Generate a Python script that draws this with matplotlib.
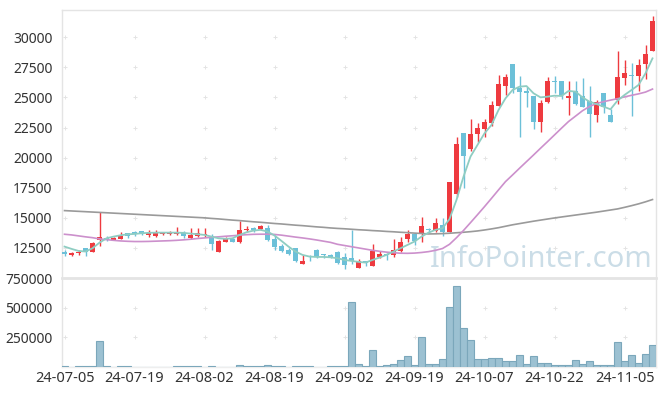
import numpy as np
import matplotlib.pyplot as plt
from matplotlib.ticker import FixedLocator, FuncFormatter

plt.rcParams['font.family'] = ['Noto Sans', 'DejaVu Sans']

# x-axis tick labels (one every 10 trading days)
tick_labels = ["24-07-05", "24-07-19", "24-08-02", "24-08-19", "24-09-02",
               "24-09-19", "24-10-07", "24-10-22", "24-11-05"]

# daily candles
opens = [12140, 11870, 12100, 12470, 12200, 13170, 13330, 13190, 13280, 13720,
         13830, 13910, 13610, 13480, 13640, 13620, 13620, 13780, 13300, 13530,
         13600, 13520, 12200, 13030, 13270, 12950, 13950, 14150, 14050, 14190,
         13250, 12670, 12330, 12530, 11150, 11860, 12330, 11960, 11920, 12140,
         11750, 11700, 10870, 11390, 11030, 11760, 11980, 11870, 12280, 13250,
         13660, 13720, 14100, 13940, 14410, 13860, 16990, 22030, 20700, 22000,
         22420, 22910, 24320, 25960, 27800, 25820, 25520, 25130, 22990, 24660,
         26360, 26330, 24990, 25540, 25130, 24730, 23550, 25400, 23550, 24790,
         26650, 26880, 26810, 27760, 28890]
highs = [12330, 12140, 12330, 12530, 12950, 15500, 13470, 13440, 13800, 13780,
         13890, 13940, 13950, 14030, 13830, 13890, 14240, 13920, 14130, 14130,
         14130, 13660, 13160, 13440, 13330, 14740, 14300, 14200, 14400, 14440,
         13580, 12860, 12470, 12530, 11920, 11920, 12390, 12000, 11980, 12270,
         12050, 14000, 11610, 11450, 12830, 12250, 12110, 13250, 13390, 14000,
         13660, 15050, 14160, 14970, 14970, 18000, 21750, 22030, 23190, 22860,
         23220, 24710, 26900, 26950, 27800, 26750, 25910, 25130, 24790, 26730,
         26750, 26400, 26330, 26330, 26580, 25930, 24830, 25400, 24020, 28860,
         28110, 27840, 28170, 29360, 31770]
lows = [11860, 11840, 11950, 11860, 12180, 12700, 13080, 13140, 13220, 13360,
        13470, 13580, 13390, 13420, 13580, 13560, 13560, 13360, 13220, 13420,
        13420, 12330, 12140, 12990, 12990, 12890, 13860, 13860, 14000, 13110,
        12360, 12140, 11920, 11350, 11140, 11420, 11640, 11640, 11640, 11170,
        10730, 11150, 10860, 11010, 10980, 11700, 11500, 11780, 12200, 12970,
        12750, 12970, 13860, 13860, 13500, 13800, 16760, 17460, 20530, 21330,
        21750, 22630, 24290, 25180, 25400, 21720, 24250, 22360, 22140, 24510,
        25370, 24850, 23550, 24400, 24180, 21700, 23000, 23740, 22970, 24460,
        26040, 23460, 25540, 26510, 28890]
closes = [11980, 12080, 12160, 12200, 12910, 13410, 13170, 13360, 13500, 13470,
          13670, 13700, 13750, 13750, 13750, 13800, 13830, 13530, 13610, 13700,
          13680, 12860, 13080, 13270, 13030, 13970, 14050, 14020, 14330, 13190,
          12580, 12250, 12030, 11400, 11450, 11760, 11760, 11880, 11720, 11230,
          11090, 11400, 11420, 11230, 12250, 12000, 11870, 12330, 12970, 13660,
          13080, 14330, 13950, 14550, 13860, 17980, 21150, 20170, 21940, 22470,
          22970, 24380, 26120, 26700, 25820, 25490, 25410, 22990, 24540, 26370,
          26300, 25210, 25130, 24460, 24240, 23630, 24600, 24240, 22970, 26730,
          27060, 26820, 27700, 28610, 31350]
volumes = [8500, 1000, 8500, 8500, 8500, 219000, 8500, 1000, 8500, 8500,
           1000, 1000, 1000, 1000, 1000, 1000, 8500, 8500, 8500, 8500,
           1000, 8500, 1000, 1000, 1000, 20000, 8500, 8500, 8500, 20000,
           8500, 8500, 1000, 8500, 8500, 8500, 1000, 1000, 12000, 12000,
           12000, 549000, 28700, 6000, 139700, 6000, 14500, 28700, 62900, 91300,
           14500, 253000, 28700, 28700, 71400, 506500, 685700, 327300, 225000, 71400,
           71400, 79900, 79900, 54300, 54300, 97000, 28700, 91300, 37300, 37300,
           20200, 20200, 20200, 62900, 28700, 54300, 20200, 20200, 20200, 207900,
           54300, 97000, 37300, 105500, 182300]

# moving averages (5, 20, 120 days) as drawn on the chart
ma5 = [12610, 12420, 12250, 12200, 12470, 12940, 13300, 13440, 13550, 13630,
       13660, 13720, 13750, 13770, 13770, 13770, 13770, 13750, 13690, 13640,
       13580, 13440, 13300, 13250, 13300, 13580, 13800, 13940, 14000, 13860,
       13530, 13080, 12610, 12200, 11920, 11780, 11750, 11750, 11720, 11640,
       11500, 11420, 11340, 11280, 11500, 11700, 11920, 12200, 12470, 12750,
       13030, 13440, 13770, 14000, 14130, 14900, 16490, 18420, 20090, 21060,
       22020, 22720, 23960, 24930, 25620, 25900, 25950, 25350, 25010, 25070,
       25150, 25125, 25540, 25490, 25010, 24650, 24460, 24240, 24020, 24740,
       25210, 25620, 26040, 27010, 28250]
ma20 = [13635, 13580, 13500, 13420, 13350, 13250, 13190, 13130, 13080, 13050,
        13030, 13030, 13040, 13060, 13080, 13100, 13130, 13170, 13220, 13280,
        13330, 13380, 13420, 13470, 13510, 13560, 13600, 13630, 13640, 13640,
        13620, 13560, 13480, 13400, 13330, 13250, 13160, 13060, 12960, 12800,
        12700, 12600, 12500, 12400, 12300, 12220, 12150, 12100, 12060, 12050,
        12070, 12120, 12190, 12300, 12450, 12800, 13350, 13950, 14600, 15260,
        15930, 16620, 17320, 18010, 18560, 19120, 19670, 20220, 20780, 21330,
        21890, 22450, 23000, 23450, 23900, 24250, 24500, 24650, 24780, 24900,
        25050, 25180, 25300, 25450, 25700]
ma120 = [15600, 15570, 15540, 15510, 15480, 15450, 15420, 15390, 15360, 15330,
         15300, 15270, 15240, 15210, 15180, 15150, 15120, 15090, 15060, 15030,
         15000, 14950, 14910, 14860, 14810, 14770, 14720, 14670, 14630, 14580,
         14530, 14490, 14440, 14390, 14350, 14300, 14250, 14210, 14160, 14120,
         14090, 14050, 14010, 13980, 13940, 13910, 13870, 13840, 13800, 13770,
         13730, 13700, 13660, 13670, 13690, 13720, 13760, 13800, 13850, 13910,
         13990, 14080, 14180, 14300, 14420, 14520, 14620, 14720, 14810, 14900,
         14990, 15070, 15150, 15230, 15310, 15390, 15470, 15560, 15650, 15740,
         15870, 16010, 16160, 16330, 16520]

price_ticks = [12500, 15000, 17500, 20000, 22500, 25000, 27500, 30000]
volume_ticks = [250000, 500000, 750000]

RED = '#ee3a3f'
BLUE = '#6cc0d8'
EDGE = '#e4e4e4'

o = np.array(opens); h = np.array(highs); l = np.array(lows); c = np.array(closes)
idx = np.arange(len(c))
tick_pos = idx[::10][:len(tick_labels)]
candle_colors = np.where(c >= o, RED, BLUE)

fig = plt.figure(figsize=(6.65, 3.96), dpi=100)
ax = fig.add_axes([62/665, 1 - 278/396, 594/665, 268/396])
axv = fig.add_axes([62/665, 1 - 367/396, 594/665, 89/396], sharex=ax)

# faint "+" grid marks
gx, gy = np.meshgrid(tick_pos, price_ticks)
ax.scatter(gx.ravel(), gy.ravel(), marker='+', s=9, color='#e4e4e4', lw=0.7, zorder=1)
gx, gy = np.meshgrid(tick_pos, volume_ticks[:-1])
axv.scatter(gx.ravel(), gy.ravel(), marker='+', s=9, color='#e4e4e4', lw=0.7, zorder=1)

# watermark
ax.text(0.62, 0.04, "InfoPointer.com", transform=ax.transAxes, fontsize=21,
        color='#cbdde7', va='baseline', ha='left', zorder=1.5)

# candles
ax.vlines(idx, l, h, colors=candle_colors, lw=1, zorder=3)
ax.bar(idx, np.maximum(np.abs(c - o), 40), bottom=np.minimum(o, c), width=0.72,
       color=candle_colors, zorder=4)

# moving averages
ax.plot(idx, ma120, color='#9a9a9a', lw=1.2, zorder=5)
ax.plot(idx, ma20, color='#cc90cc', lw=1.2, zorder=5)
ax.plot(idx, ma5, color='#8fcdc2', lw=1.3, zorder=6)

ax.set_xlim(-0.36, 84.5)
ax.set_ylim(10000, 32270)
ax.yaxis.set_major_locator(FixedLocator(price_ticks))
ax.yaxis.set_major_formatter(FuncFormatter(lambda v, p: f"{int(v)}"))
ax.tick_params(axis='x', length=0, labelbottom=False)
ax.tick_params(axis='y', length=0, pad=7, labelsize=10, labelcolor='#333333')

# volume
axv.bar(idx, volumes, width=1.0, color='#9cc1d2', edgecolor='#7ba7bb', lw=0.8, zorder=3)
axv.set_ylim(0, 750000)
axv.yaxis.set_major_locator(FixedLocator(volume_ticks))
axv.yaxis.set_major_formatter(FuncFormatter(lambda v, p: f"{int(v)}"))
axv.set_xticks(tick_pos)
axv.set_xticklabels(tick_labels)
axv.tick_params(axis='x', length=0, pad=3, labelsize=10.5, labelcolor='#333333')
axv.tick_params(axis='y', length=0, pad=7, labelsize=10, labelcolor='#333333')

for a in (ax, axv):
    for s in a.spines.values():
        s.set_color(EDGE)
        s.set_linewidth(1)
ax.spines['bottom'].set_visible(False)
axv.spines['top'].set_linewidth(2)
axv.spines['bottom'].set_color('#eeeeee')

fig.savefig("out.png", dpi=100)
